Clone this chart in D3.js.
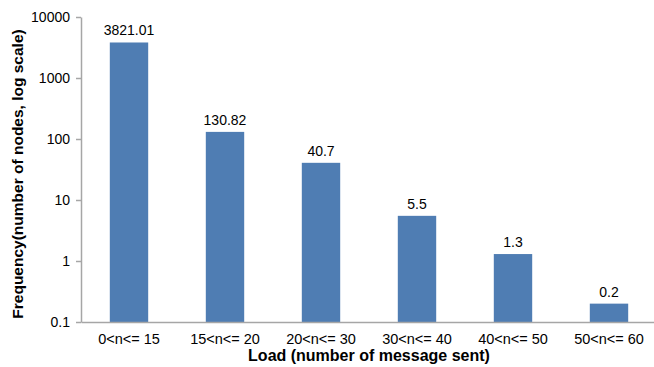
<!DOCTYPE html>
<html>
<head>
<meta charset="utf-8">
<script src="https://cdn.jsdelivr.net/npm/d3@7"></script>
<style>
  body { margin: 0; background: #fff; }
  text { font-family: "Liberation Sans", Arial, sans-serif; fill: #000; }
</style>
</head>
<body>
<div id="chart-area"></div>
<script>
var categories = ["0<n<= 15", "15<n<= 20", "20<n<= 30", "30<n<= 40", "40<n<= 50", "50<n<= 60"];
var values = [3821.01, 130.82, 40.7, 5.5, 1.3, 0.2];
var labels = ["3821.01", "130.82", "40.7", "5.5", "1.3", "0.2"];
var yTicks = [0.1, 1, 10, 100, 1000, 10000];
var yTickLabels = ["0.1", "1", "10", "100", "1000", "10000"];

var width = 654, height = 367;
var margin = {top: 17, right: -3, bottom: 45, left: 81};

var svg = d3.select("#chart-area")
  .append("svg")
    .attr("width", width)
    .attr("height", height);

var x = d3.scaleBand()
  .domain(categories)
  .range([margin.left, width - margin.right])
  .paddingInner(0.6)
  .paddingOuter(0.3);

var y = d3.scaleLog()
  .domain([0.1, 10000])
  .range([height - margin.bottom, margin.top]);

// y axis
var yAxis = svg.append("g")
  .attr("transform", "translate(" + margin.left + ",0)")
  .call(d3.axisLeft(y).tickValues(yTicks).tickFormat(function(d, i) { return yTickLabels[i]; }).tickSize(5).tickSizeOuter(0));
yAxis.select(".domain").attr("stroke", "#a6a6a6").attr("stroke-width", 1.5);
yAxis.selectAll(".tick line").attr("stroke", "#a6a6a6").attr("stroke-width", 1.5);
yAxis.selectAll(".tick text")
  .attr("x", -11)
  .style("font-size", "14px")
  .style("font-family", "Liberation Sans, Arial, sans-serif")
  .attr("fill", "#000");

// bars
svg.selectAll("rect.bar")
  .data(values)
  .enter()
  .append("rect")
    .attr("class", "bar")
    .attr("x", function(d, i) { return x(categories[i]); })
    .attr("width", x.bandwidth())
    .attr("y", function(d) { return y(d); })
    .attr("height", function(d) { return y(0.1) - y(d); })
    .attr("fill", "#4f7db3");

// value labels
svg.selectAll("text.val")
  .data(values)
  .enter()
  .append("text")
    .attr("class", "val")
    .attr("x", function(d, i) { return x(categories[i]) + x.bandwidth() / 2; })
    .attr("y", function(d) { return y(d) - 7; })
    .attr("text-anchor", "middle")
    .style("font-size", "14px")
    .text(function(d, i) { return labels[i]; });

// x axis
var xAxis = svg.append("g")
  .attr("transform", "translate(0," + y(0.1) + ")")
  .call(d3.axisBottom(x).tickSize(0).tickSizeOuter(0));
xAxis.select(".domain").attr("stroke", "#a6a6a6").attr("stroke-width", 1.5);
xAxis.selectAll(".tick text")
  .attr("y", 12)
  .style("font-size", "14.5px")
  .style("font-family", "Liberation Sans, Arial, sans-serif")
  .attr("fill", "#000");

// axis titles
svg.append("text")
  .attr("x", 369)
  .attr("y", 361)
  .attr("text-anchor", "middle")
  .style("font-size", "16px")
  .style("font-weight", "bold")
  .text("Load (number of message sent)");

svg.append("text")
  .attr("transform", "translate(23,174) rotate(-90)")
  .attr("text-anchor", "middle")
  .style("font-size", "15.5px")
  .style("font-weight", "bold")
  .text("Frequency(number of nodes, log scale)");
</script>
</body>
</html>
